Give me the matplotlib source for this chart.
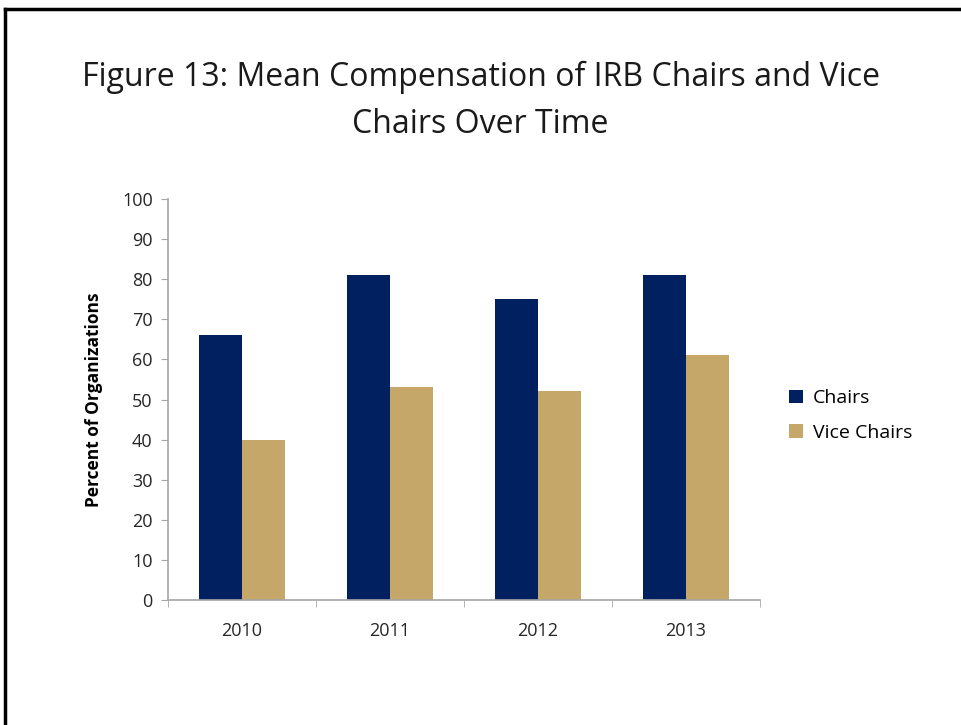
import numpy as np
import matplotlib.pyplot as plt
from matplotlib.lines import Line2D

# Chart data
years = ['2010', '2011', '2012', '2013']
chairs = [66, 81, 75, 81]
vice_chairs = [40, 53, 52, 61]

navy = '#002060'
tan = '#C4A769'
grey = '#A6A6A6'

plt.rcParams['font.family'] = ['Open Sans', 'DejaVu Sans']

fig = plt.figure(figsize=(9.61, 7.25), dpi=100)
ax = fig.add_axes([0.1748, 0.1724, 0.616, 0.5531])

x = np.arange(len(years))
w = 0.29
ax.bar(x - w / 2, chairs, w, color=navy, label='Chairs')
ax.bar(x + w / 2, vice_chairs, w, color=tan, label='Vice Chairs')

ax.set_xlim(-0.5, len(years) - 0.5)
ax.set_ylim(0, 100)
ax.set_yticks(range(0, 101, 10))
ax.set_xticks(x)
ax.set_xticklabels(years)
ax.tick_params(axis='x', length=0, labelsize=13, pad=16, colors='#262626')
ax.tick_params(axis='y', length=5, color=grey, labelsize=13, labelcolor='#262626', pad=6)
# category boundary ticks on the x axis
ax.set_xticks(np.arange(-0.5, len(years)), minor=True)
ax.tick_params(axis='x', which='minor', length=5, color=grey)

for s in ['top', 'right']:
    ax.spines[s].set_visible(False)
for s in ['left', 'bottom']:
    ax.spines[s].set_color(grey)
    ax.spines[s].set_linewidth(1.2)

ax.set_ylabel('Percent of Organizations', fontsize=12.5, fontweight='bold', labelpad=14)

fig.text(0.5, 0.861, 'Figure 13: Mean Compensation of IRB Chairs and Vice\nChairs Over Time',
         ha='center', va='center', fontsize=23, linespacing=1.58, color='#1a1a1a')

ax.legend(loc='center left', bbox_to_anchor=(1.02, 0.46), frameon=False, fontsize=14,
          handlelength=0.7, handleheight=0.7, handletextpad=0.5, labelspacing=0.85)

# page border (top and left only visible)
fig.add_artist(Line2D([0.005, 1.0], [0.988, 0.988], transform=fig.transFigure, color='black', lw=2.5))
fig.add_artist(Line2D([0.005, 0.005], [0.0, 0.988], transform=fig.transFigure, color='black', lw=2.5))

fig.savefig('out.png', dpi=100)
